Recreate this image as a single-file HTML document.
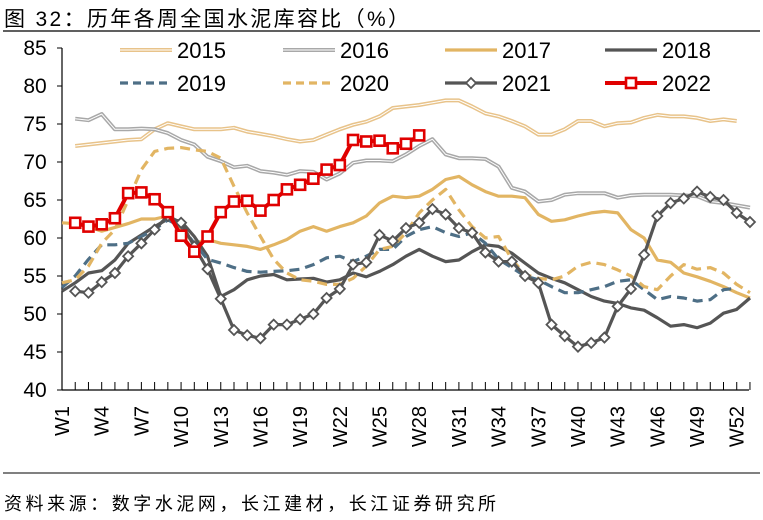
<!DOCTYPE html>
<html><head><meta charset="utf-8"><style>
body{margin:0;background:#fff;}
svg{display:block;font-family:"Liberation Sans","Noto Sans CJK SC",sans-serif;}
</style></head><body>
<svg id="c" width="763" height="520" viewBox="0 0 763 520">
<text x="4" y="26" font-size="21" fill="#000" textLength="405" lengthAdjust="spacing">图 32：历年各周全国水泥库容比（%）</text>
<line x1="3" y1="31" x2="760" y2="31" stroke="#000" stroke-width="1.2"/>
<line x1="3" y1="473" x2="760" y2="473" stroke="#000" stroke-width="1"/>
<text x="4" y="510" font-size="18" fill="#000" textLength="492" lengthAdjust="spacing">资料来源：数字水泥网，长江建材，长江证券研究所</text>
<g id="axes"></g><g id="series"></g><g id="legend"></g>
</svg>
<script>
const yTicks=[40,45,50,55,60,65,70,75,80,85];
const weekLabels=["W1","W4","W7","W10","W13","W16","W19","W22","W25","W28","W31","W34","W37","W40","W43","W46","W49","W52"];
const s2015=[null,72.1,72.3,72.5,72.7,72.9,73.0,74.3,75.1,74.7,74.3,74.3,74.3,74.5,74.0,73.7,73.4,73.0,72.7,72.9,73.6,74.3,74.9,75.3,76.0,77.1,77.3,77.5,77.8,78.1,78.1,77.3,76.4,76.0,75.4,74.7,73.6,73.6,74.3,75.4,75.4,74.7,75.1,75.2,75.8,76.2,76.0,76.0,75.8,75.4,75.6,75.4,null];
const s2016=[null,75.7,75.5,76.3,74.3,74.3,74.4,74.3,73.8,72.9,72.3,70.7,70.1,69.3,69.5,68.8,68.6,68.3,68.8,68.7,67.7,68.5,69.9,70.2,70.2,70.1,71.0,72.1,73.0,71.0,70.5,70.5,70.4,69.4,66.6,66.1,64.8,65.0,65.7,65.9,65.9,65.9,65.3,65.6,65.7,65.7,65.7,65.6,65.5,64.8,64.6,64.3,64.0];
const s2017=[62.0,61.9,61.5,60.9,61.4,61.9,62.5,62.5,62.9,61.1,59.3,59.8,59.3,59.1,58.9,58.5,59.1,59.8,60.9,61.5,60.9,61.5,62.0,62.9,64.6,65.5,65.3,65.5,66.4,67.7,68.1,67.0,66.1,65.5,65.5,65.3,63.1,62.2,62.4,62.9,63.3,63.5,63.3,61.1,60.0,57.1,56.8,55.4,54.9,54.3,53.6,52.8,52.1];
const s2018=[53.0,54.1,55.4,55.7,57.1,59.3,60.4,61.5,62.5,62.2,60.2,57.6,52.3,53.2,54.5,55.0,55.2,54.5,54.6,54.7,54.2,54.5,55.4,54.9,55.6,56.5,57.6,58.5,57.6,56.9,57.1,58.2,59.1,58.9,58.0,56.7,55.4,54.7,54.1,53.2,52.3,51.7,51.4,50.8,50.5,49.5,48.4,48.6,48.2,48.8,50.1,50.6,52.1];
const s2019=[53.5,55.0,57.2,59.1,59.1,59.3,60.2,61.1,62.4,61.5,59.3,57.2,56.7,56.1,55.6,55.5,55.6,55.7,55.9,56.5,57.4,57.6,56.9,57.6,58.5,58.5,60.2,61.1,61.5,60.7,60.2,60.7,59.3,57.2,56.1,55.0,54.5,53.6,52.8,52.8,53.2,53.6,54.3,54.5,53.2,51.9,52.3,52.1,51.7,51.9,53.2,53.4,null];
const s2020=[54.1,54.5,56.3,59.3,61.1,65.0,69.0,71.4,71.8,71.9,71.6,71.4,70.5,66.8,63.3,60.2,57.2,55.4,54.5,54.3,53.9,53.9,54.7,56.3,58.5,58.9,60.7,63.3,65.0,66.4,63.7,61.5,60.0,60.2,57.2,55.2,54.7,54.5,55.0,56.3,56.8,56.5,55.8,55.0,53.6,53.2,55.0,56.5,55.9,56.1,55.4,53.9,52.8];
const s2021=[null,53.0,52.8,54.2,55.4,57.6,59.3,61.1,62.9,62.0,58.9,55.9,52.0,47.9,47.2,46.8,48.6,48.6,49.3,50.0,52.1,53.3,56.5,56.8,60.4,59.6,61.3,62.0,63.8,63.1,61.3,60.7,58.1,56.9,56.9,55.0,54.1,48.6,47.1,45.7,46.2,46.9,51.0,53.3,57.8,62.9,64.6,65.2,66.1,65.4,65.0,63.3,62.1];
const s2022=[null,62.0,61.5,61.8,62.6,65.9,66.0,65.1,63.4,60.3,58.2,60.2,63.4,64.8,64.9,63.6,65.0,66.4,67.0,67.8,69.0,69.6,72.9,72.7,72.8,71.8,72.4,73.5];
const NS='http://www.w3.org/2000/svg';
function xS(i){return 62+13.23*i;}
function yS(v){return 390-(v-40)*7.6;}
function mk(tag,attrs,parent){const e=document.createElementNS(NS,tag);for(const k in attrs)e.setAttribute(k,attrs[k]);parent.appendChild(e);return e;}
const ax=document.getElementById('axes'),sg=document.getElementById('series'),lg=document.getElementById('legend');
let e=mk('line',{x1:62,y1:48,x2:62,y2:390,stroke:'#000','stroke-width':1.2},ax);


e=mk('line',{x1:62,y1:390,x2:749,y2:390,stroke:'#000','stroke-width':1.2},ax);


yTicks.forEach(v=>{
  const t=mk('line',{x1:57,y1:yS(v),x2:62,y2:yS(v),stroke:'#000'},ax);
  
  
  const l=mk('text',{x:35,y:yS(v)+7,'font-size':21,'text-anchor':'middle'},ax);l.textContent=v;
  
  
});
for(let i=1;i<=52;i++){const t=mk('line',{x1:xS(i),y1:382,x2:xS(i),y2:390,stroke:'#000'},ax);
  
  }
weekLabels.forEach((w,k)=>{const x=xS(k*3)+7;const l=mk('text',{x:x,y:406,'font-size':20,'text-anchor':'end',transform:`rotate(-90 ${x} 406)`},ax);l.textContent=w;
  
  });
function pathOf(arr){let d='',pen=false;arr.forEach((v,i)=>{if(v==null){pen=false;return;}d+=(pen?'L':'M')+xS(i).toFixed(1)+','+yS(v).toFixed(1);pen=true;});return d;}
const styles=[
 {d:s2015,n:'2015',c:'#e8c38a',w:4,dbl:true},
 {d:s2016,n:'2016',c:'#a8a8a8',w:4,dbl:true},
 {d:s2017,n:'2017',c:'#e2b563',w:3.2},
 {d:s2018,n:'2018',c:'#555555',w:3.2},
 {d:s2019,n:'2019',c:'#4e6f86',w:3.2,dash:'10,6'},
 {d:s2020,n:'2020',c:'#e2b563',w:3.2,dash:'10,6'},
 {d:s2021,n:'2021',c:'#555555',w:3.2,mk:'diamond'},
 {d:s2022,n:'2022',c:'#e00000',w:4,mk:'square'}];
styles.forEach((s,k)=>{
  const g=mk('g',{},sg);
  
  
  const p=mk('path',{d:pathOf(s.d),fill:'none',stroke:s.c,'stroke-width':s.w,'stroke-linejoin':'round','stroke-dasharray':s.dash||'none'},g);
  
  
  if(s.dbl){const q=mk('path',{d:pathOf(s.d),fill:'none',stroke:'#fff','stroke-width':1,'stroke-linejoin':'round'},g);
    
    }
  if(s.mk){s.d.forEach((v,i)=>{if(v==null)return;const x=xS(i),y=yS(v);let m;
    if(s.mk==='diamond')m=mk('path',{d:`M${x},${y-5}L${x+5},${y}L${x},${y+5}L${x-5},${y}Z`,fill:'#fff',stroke:s.c,'stroke-width':1.8},g);
    else m=mk('rect',{x:x-5,y:y-5,width:10,height:10,fill:'#fff',stroke:s.c,'stroke-width':2.6},g);
    
    });}
  const col=k%4,row=k<4?0:1;const lx=[120,283,445,605][col],ly=[50,83][row];
  const lgE=mk('g',{},lg);
  
  
  mk('line',{x1:lx,y1:ly,x2:lx+52,y2:ly,stroke:s.c,'stroke-width':s.w,'stroke-dasharray':s.dash?'8,5':'none'},lgE);
  if(s.dbl)mk('line',{x1:lx,y1:ly,x2:lx+52,y2:ly,stroke:'#fff','stroke-width':1},lgE);
  const mx=lx+26;
  if(s.mk==='diamond')mk('path',{d:`M${mx},${ly-5}L${mx+5},${ly}L${mx},${ly+5}L${mx-5},${ly}Z`,fill:'#fff',stroke:s.c,'stroke-width':1.8},lgE);
  if(s.mk==='square')mk('rect',{x:mx-5,y:ly-5,width:10,height:10,fill:'#fff',stroke:s.c,'stroke-width':2.6},lgE);
  const t=mk('text',{x:lx+57,y:ly+8,'font-size':22},lgE);t.textContent=s.n;
});
</script>
</body></html>
